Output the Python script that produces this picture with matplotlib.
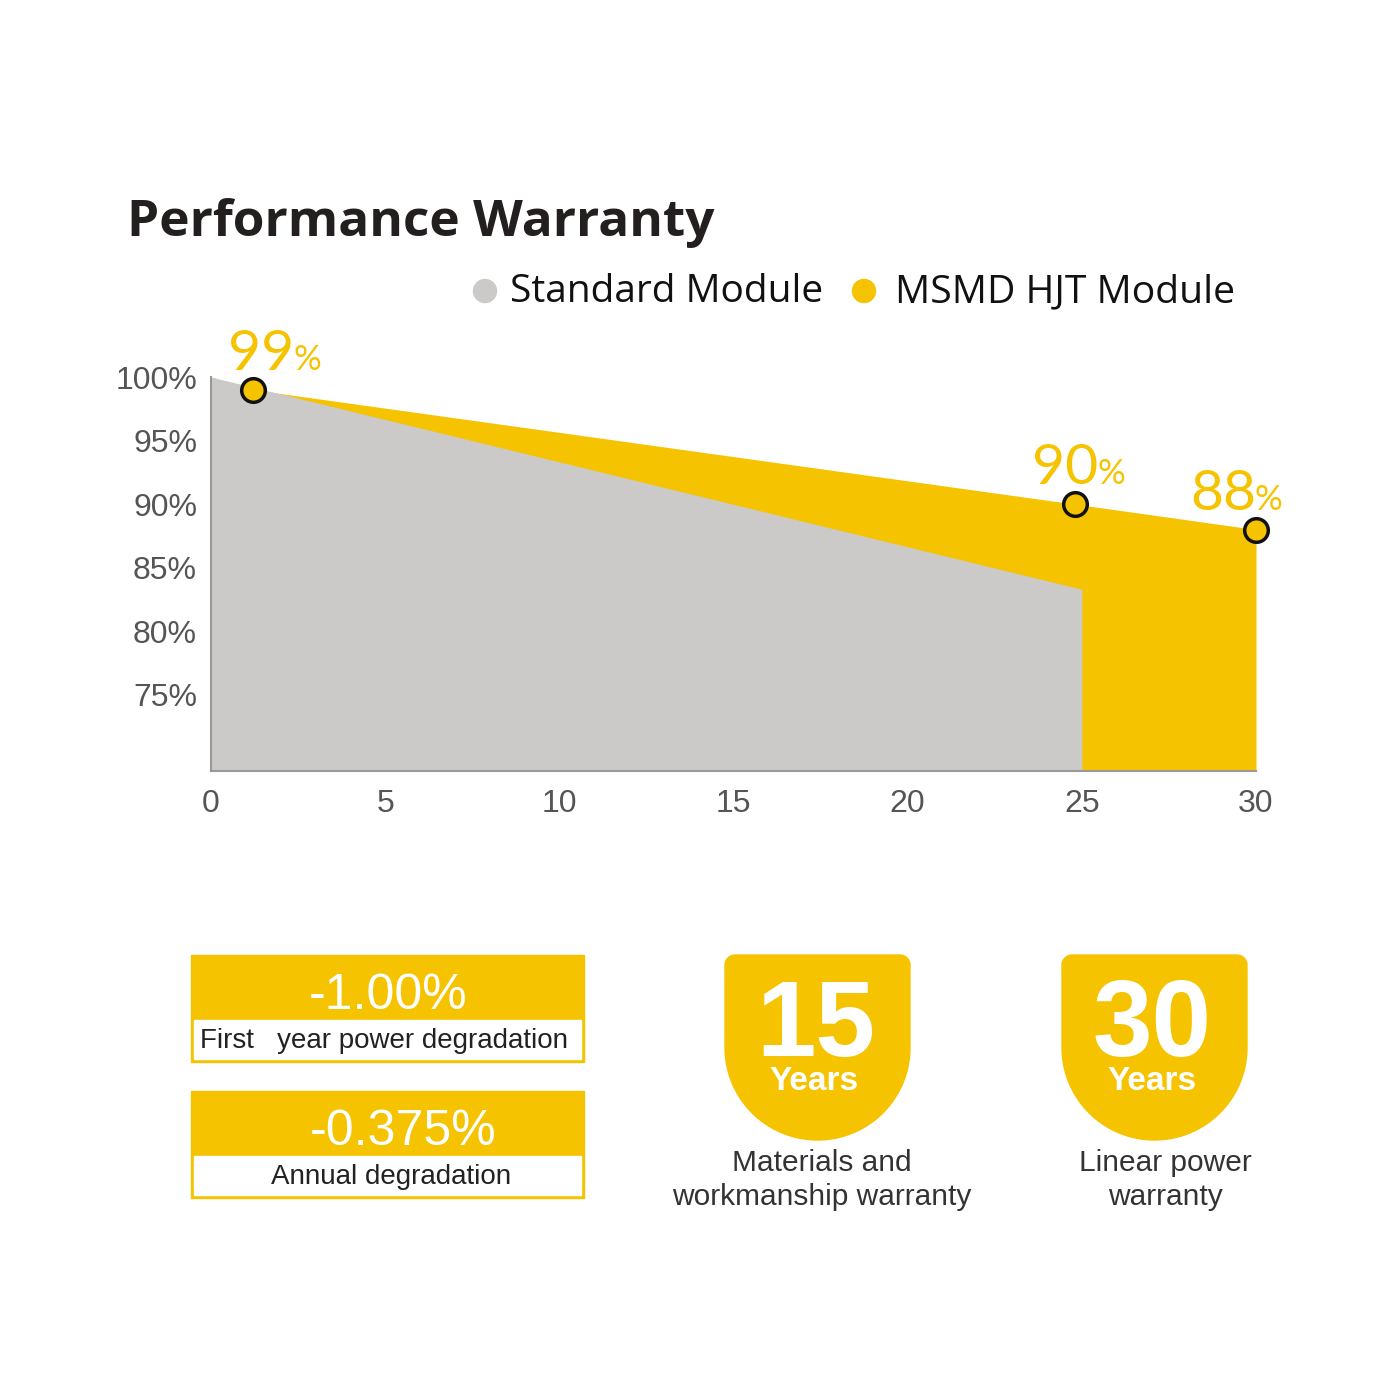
import matplotlib
matplotlib.use("Agg")
import matplotlib.pyplot as plt
import numpy as np
from matplotlib.patches import Rectangle, Circle, Polygon

# chart data
std_years = [0, 25]
std_values = [100, 83.3]
hjt_years = [0, 1.2, 24.8, 30]
hjt_values = [100, 99, 90, 88]
marker_years = [1.2, 24.8, 30]
marker_values = [99, 90, 88]
marker_labels = ["99", "90", "88"]
x_ticks = [0, 5, 10, 15, 20, 25, 30]
y_ticks = [75, 80, 85, 90, 95, 100]
legend_labels = ["Standard Module", "MSMD HJT Module"]

# info panel texts
box_values = ["-1.00%", "-0.375%"]
box_captions = ["First   year power degradation", "Annual degradation"]
shield_numbers = ["15", "30"]
shield_captions = ["Materials and\nworkmanship warranty", "Linear power\nwarranty"]

YELLOW = "#F6C300"
GRAY = "#CBCAC9"
W, H = 1400, 1400

fig = plt.figure(figsize=(14, 14), dpi=100)
fig.patch.set_facecolor("white")

# overlay in pixel coordinates for title, legend and info panel
ov = fig.add_axes([0, 0, 1, 1])
ov.set_xlim(0, W)
ov.set_ylim(H, 0)
ov.axis("off")

ov.text(127, 236, "Performance Warranty", fontsize=37, fontweight="bold",
        family="Open Sans", color="#231f1f", ha="left", va="baseline")

ov.add_patch(Circle((485, 291), 11.5, color=GRAY))
ov.text(510, 302, legend_labels[0], fontsize=28, family="Open Sans",
        color="#111", ha="left", va="baseline")
ov.add_patch(Circle((864, 291), 11.5, color=YELLOW))
ov.text(895, 302, legend_labels[1], fontsize=28.2, family="Open Sans",
        color="#111", ha="left", va="baseline")

# degradation boxes
box_tops = [955, 1091]
box_value_x = [388, 403]
box_caption_x = [384, 391]
for top, vx, cx, val, cap in zip(box_tops, box_value_x, box_caption_x,
                                 box_values, box_captions):
    ov.add_patch(Rectangle((191, top), 393, 107, color=YELLOW))
    ov.add_patch(Rectangle((194, top + 65), 387, 39, color="white"))
    ov.text(vx, top + 41, val, fontsize=36, family="Liberation Sans",
            color="white", ha="center", va="center")
    ov.text(cx, top + 86, cap, fontsize=20, family="Liberation Sans",
            color="#222", ha="center", va="center")


def shield(x0, x1, top, bottom, r=10):
    w = x1 - x0
    R = w / 2
    cy = bottom - R
    pts = []
    for a in np.linspace(np.pi, 1.5 * np.pi, 8):
        pts.append((x0 + r + r * np.cos(a), top + r + r * np.sin(a)))
    for a in np.linspace(1.5 * np.pi, 2 * np.pi, 8):
        pts.append((x1 - r + r * np.cos(a), top + r + r * np.sin(a)))
    for a in np.linspace(0, np.pi, 60):
        pts.append((x0 + R + R * np.cos(a), cy + R * np.sin(a)))
    return Polygon(pts, closed=True, color=YELLOW)


shield_x = [(725, 910), (1062, 1247)]
caption_x = [822, 1165]
for (sx0, sx1), num, cap, cx in zip(shield_x, shield_numbers, shield_captions, caption_x):
    ov.add_patch(shield(sx0, sx1, 955, 1140))
    mid = (sx0 + sx1) / 2
    ov.text(mid - 2, 1056, num, fontsize=77, fontweight="bold",
            family="Liberation Sans", color="white", ha="center", va="baseline")
    ov.text(mid - 3, 1090, "Years", fontsize=24, fontweight="bold",
            family="Liberation Sans", color="white", ha="center", va="baseline")
    ov.text(cx, 1180, cap, fontsize=21.5, family="Liberation Sans", color="#333",
            ha="center", va="center", linespacing=1.3)

# chart
ax = fig.add_axes([211 / W, 1 - 771 / H, 1045 / W, (771 - 377) / H])
ax.set_facecolor("none")
ymin = 69
ax.fill_between(hjt_years, hjt_values, ymin, color=YELLOW, lw=0)
ax.fill_between(std_years, std_values, ymin, color=GRAY, lw=0)
ax.plot(marker_years, marker_values, "o", ms=17, mfc=YELLOW, mec="#111",
        mew=2.5, clip_on=False, zorder=5)

label_dx = [-25, -43, -66]
renderer = fig.canvas.get_renderer()
for xv, yv, lab, dx in zip(marker_years, marker_values, marker_labels, label_dx):
    t = ax.annotate(lab, (xv, yv), xytext=(dx, 20), textcoords="offset pixels",
                    fontsize=41, family="Lato", color=YELLOW, ha="left",
                    va="baseline", annotation_clip=False)
    bb = t.get_window_extent(renderer=renderer)
    ax.annotate("%", (xv, yv), xytext=(dx + bb.width - 1, 20),
                textcoords="offset pixels", fontsize=25, family="Lato",
                color=YELLOW, ha="left", va="baseline", annotation_clip=False)

ax.set_xlim(0, 30)
ax.set_ylim(ymin, 100)
ax.set_xticks(x_ticks)
ax.set_yticks(y_ticks)
ax.set_yticklabels([f"{v}%" for v in y_ticks])
ax.tick_params(length=0, labelsize=23, labelcolor="#555")
ax.tick_params(axis="y", pad=10)
ax.tick_params(axis="x", pad=13)
for lbl in ax.get_xticklabels() + ax.get_yticklabels():
    lbl.set_family("Liberation Sans")
for s in ["top", "right"]:
    ax.spines[s].set_visible(False)
for s in ["left", "bottom"]:
    ax.spines[s].set_color("#999")
    ax.spines[s].set_linewidth(1.5)

fig.savefig("out.png", dpi=100, facecolor="white")
